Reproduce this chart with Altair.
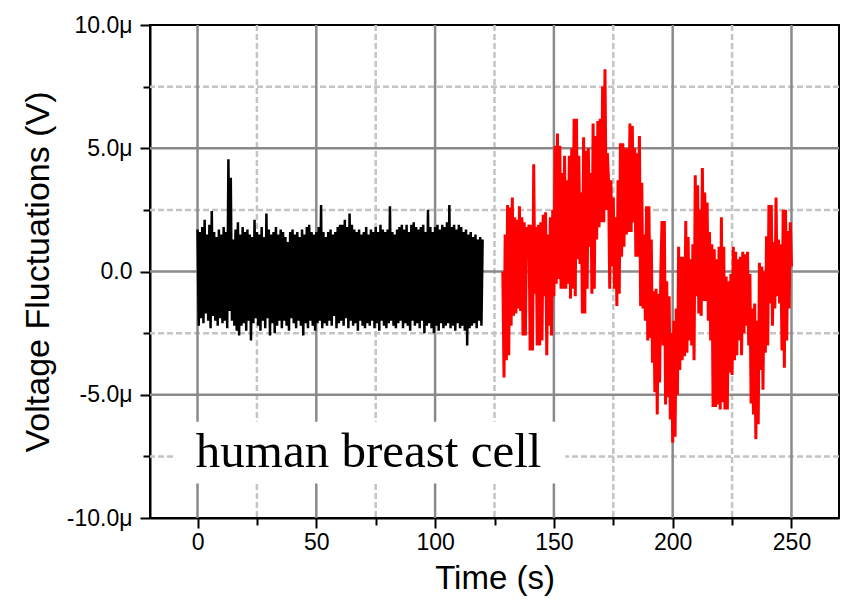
import altair as alt
import pandas as pd

# ---------------- data (values in µV) ----------------
black_t0, black_dt = 0.0, 0.5
black_v = [
    1.7, -2.2, 1.6, -1.9, 1.8, -2.1, 2.1, -1.7, 1.5, -2.0,
    1.9, -2.3, 2.45, -1.8, 1.6, -2.0, 1.4, -2.2, 1.7, -1.9,
    1.5, -2.1, 1.8, -2.0, 1.6, -2.3, 4.55, -1.6, 3.8, -2.0,
    1.3, -2.2, 1.7, -2.4, 2.0, -2.6, 1.5, -2.2, 1.8, -2.1,
    1.6, -2.4, 1.7, -2.0, 1.5, -2.8, 1.4, -2.1, 2.1, -1.9,
    1.6, -2.2, 1.5, -2.4, 1.8, -2.0, 1.4, -2.3, 2.35, -1.9,
    1.7, -2.6, 1.5, -2.1, 1.6, -2.5, 1.8, -2.2, 1.5, -2.0,
    1.7, -2.3, 1.6, -2.0, 1.4, -2.2, 1.2, -2.4, 1.6, -1.9,
    1.7, -2.1, 1.5, -2.3, 1.6, -2.0, 1.4, -2.2, 1.7, -2.6,
    1.5, -2.1, 1.8, -2.3, 1.9, -2.0, 1.6, -2.2, 1.5, -2.4,
    1.6, -2.1, 1.8, -2.0, 2.7, -2.3, 1.6, -2.1, 1.4, -2.2,
    1.6, -2.0, 1.7, -2.2, 1.5, -1.8, 1.6, -2.3, 1.8, -2.1,
    1.9, -2.0, 1.9, -2.2, 2.1, -1.9, 1.8, -2.3, 2.35, -2.0,
    1.9, -2.2, 1.7, -2.1, 1.6, -2.4, 1.7, -2.0, 1.5, -2.2,
    1.6, -2.3, 1.8, -2.1, 1.5, -2.2, 1.7, -2.0, 1.6, -2.3,
    1.8, -2.1, 1.6, -2.4, 1.9, -2.0, 1.7, -2.2, 1.6, -2.3,
    1.7, -2.1, 2.65, -2.0, 1.6, -2.2, 1.5, -2.3, 1.7, -2.1,
    1.8, -2.0, 1.9, -2.3, 1.7, -2.1, 1.9, -2.2, 1.6, -2.4,
    1.9, -2.0, 2.0, -2.2, 1.8, -2.1, 1.7, -2.3, 1.8, -2.0,
    1.9, -2.5, 1.6, -2.2, 2.5, -2.1, 1.8, -2.3, 1.6, -2.5,
    1.8, -2.2, 1.9, -2.4, 1.7, -2.1, 1.9, -2.3, 1.8, -2.2,
    2.0, -2.1, 2.7, -2.3, 1.8, -2.2, 1.9, -2.4, 1.7, -2.1,
    1.9, -2.3, 1.8, -2.2, 1.6, -2.4, 1.7, -3.0, 1.5, -2.3,
    1.6, -2.2, 1.4, -2.1, 1.5, -2.3, 1.3, -2.0, 1.4, -2.2,
    1.3,
]

red_t0, red_dt = 128.5, 0.5
red_v = [
    0.0, -4.3, 1.5, -3.6, 2.7, -3.4, 2.6, -2.2,
    3.0, -1.8, 2.2, -1.7, 2.1, -1.5, 2.65,
    -1.6, 2.2, -2.6, 2.0, -2.6, 1.8, 0.6,
    1.9, -3.2, 1.9, -3.2, 4.35, -0.9, 1.8,
    -3.0, 1.9, -3.0, 2.0, -2.8, 2.3, -1.0,
    2.4, -3.4, 1.5, -2.2, 2.2, -2.6, 2.5,
    -1.0, 5.1, -0.5, 5.6, -0.3, 5.1, -0.7,
    4.0, -0.7, 4.7, -0.7, 3.7, -0.5, 4.7,
    -1.1, 5.0, -0.7, 6.2,
    -1.0, 6.2, 0.5,
    4.7, 0.3, 3.2, -1.7, 5.45, -1.7, 4.9,
    -0.7, 5.0, 1.0, 4.0, -0.9, 6.0, -0.7,
    5.5, 1.3, 6.1, 1.8, 6.2, 2.0, 7.5,
    2.0, 8.2, 2.5, 4.8, 3.7, -0.7, 3.7,
    0.2, 3.0, -0.7, 2.2, -1.4, 3.7, -0.9,
    5.2, 0.6, 5.2, 1.0, 5.0, 1.5, 5.0,
    1.6, 6.0, 1.6, 5.9, 2.0, 5.0, 0.6,
    4.8, 0.6, 5.5, -1.4, 3.6, -1.5, 1.5,
    -2.0, 2.65, -2.8, 2.65,
    -2.7, 1.3, -3.7,
    -0.8, -4.9, -0.7, -5.8, -0.9, -4.5, 0.0,
    2.05, -3.0, 2.05, -5.4, -0.4, -5.1, -1.0,
    -6.0, -2.5, -6.95, -2.0, -6.7, -1.5, -5.0,
    1.0, -4.0, 0.6, -3.6, 0.6, -3.44, 2.05,
    -3.3, 1.4, -2.8, 0.5, -3.0, 1.1, -3.6,
    3.9, -1.0, 3.5, -1.7, 2.5, -1.8, 4.2,
    -1.2, 3.2, -1.2, 2.8, -2.0, 1.6, -2.8,
    1.1, -5.5, 0.9, -5.5, 0.5, -5.4, 1.0,
    -5.6, 2.2, -5.3, 1.0, -5.6, -0.2, -5.6,
    -0.4, -4.1, -0.1, -4.2, 1.0, -3.6, 0.8,
    -3.4, 0.5, -2.8, 0.6, -3.4, 0.8, -2.5,
    0.7, -2.2, 0.8, -3.0, -0.1, -5.35, -1.5,
    -5.8, -1.3, -6.8, -2.0, -6.2, 0.35, -4.0,
    0.2, -4.8, 0.0, -3.3, 1.43, -3.0, 2.7,
    -1.3, 2.7, -2.2, 1.2, -1.5, 3.0, -1.0,
    1.3, -1.3, 1.1, -3.2, 2.5, -3.9, 2.5,
    -2.8, 1.64, -1.5, 2.0, 0.2,
]

x_major = [0, 50, 100, 150, 200, 250]
x_minor = [25, 75, 125, 175, 225]
y_major = [-10, -5, 0, 5, 10]
y_grid_major = [-5, 0, 5]
y_minor = [-7.5, -2.5, 2.5, 7.5]

label_text = "human breast cell"

# ---------------- build tables ----------------
black_df = pd.DataFrame({"t": [black_t0 + i * black_dt for i in range(len(black_v))],
                         "v": black_v})
red_df = pd.DataFrame({"t": [red_t0 + i * red_dt for i in range(len(red_v))],
                       "v": red_v})

xs = alt.Scale(domain=[-20, 270], nice=False, zero=False)
ys = alt.Scale(domain=[-10, 10], nice=False, zero=False)

MAJOR_GRID = "#8a8a8a"
MINOR_GRID = "#c4c4c4"
FONT = "Liberation Sans"

ylabel = ("datum.value == 0 ? '0.0' : (datum.value < 0 ? '-' : '') + "
          "format(abs(datum.value), '.1f') + 'μ'")

# minor grid + minor ticks (own axes)
vminor = alt.Chart(pd.DataFrame({"x": x_minor})).mark_rule(
    color=MINOR_GRID, strokeWidth=2.5, strokeDash=[6, 3]
).encode(
    x=alt.X("x:Q", scale=xs, axis=alt.Axis(
        orient="bottom", values=x_minor, labels=False, domain=False, grid=False,
        ticks=True, tickSize=7, tickWidth=2, tickColor="black", title=None))
)
hminor = alt.Chart(pd.DataFrame({"y": y_minor})).mark_rule(
    color=MINOR_GRID, strokeWidth=2.5, strokeDash=[6, 3]
).encode(
    y=alt.Y("y:Q", scale=ys, axis=alt.Axis(
        orient="left", values=y_minor, labels=False, domain=False, grid=False,
        ticks=True, tickSize=7, tickWidth=2, tickColor="black", title=None))
)
vmajor = alt.Chart(pd.DataFrame({"x": x_major})).mark_rule(
    color=MAJOR_GRID, strokeWidth=2.5
).encode(x=alt.X("x:Q", scale=xs, axis=None))
hmajor = alt.Chart(pd.DataFrame({"y": y_grid_major})).mark_rule(
    color=MAJOR_GRID, strokeWidth=2.5
).encode(y=alt.Y("y:Q", scale=ys, axis=None))

# white label box and text
box = alt.Chart(pd.DataFrame({"x": [-10.3], "x2": [154.8], "y": [-6.1], "y2": [-8.6]})).mark_rect(
    color="white"
).encode(
    x=alt.X("x:Q", scale=xs, axis=None), x2="x2:Q",
    y=alt.Y("y:Q", scale=ys, axis=None), y2="y2:Q",
)
txt = alt.Chart(pd.DataFrame({"x": [-0.7], "y": [-7.93], "label": [label_text]})).mark_text(
    font="Liberation Serif", fontSize=49, align="left", baseline="alphabetic", color="black"
).encode(
    x=alt.X("x:Q", scale=xs, axis=None),
    y=alt.Y("y:Q", scale=ys, axis=None),
    text="label:N",
)

red_line = alt.Chart(red_df).mark_line(strokeWidth=3, color="#ff0000").encode(
    x=alt.X("t:Q", scale=xs, axis=None),
    y=alt.Y("v:Q", scale=ys, axis=None),
)

black_line = alt.Chart(black_df).mark_line(strokeWidth=2.5, color="#000000").encode(
    x=alt.X("t:Q", scale=xs, axis=alt.Axis(
        orient="bottom", values=x_major, title="Time (s)", grid=False,
        tickSize=10, tickWidth=2, tickColor="black",
        domainColor="black", domainWidth=2,
        labelFont=FONT, labelFontSize=23, labelColor="black", labelPadding=3,
        titleFont=FONT, titleFontSize=33, titleFontWeight="normal", titleColor="black",
        titlePadding=8)),
    y=alt.Y("v:Q", scale=ys, axis=alt.Axis(
        orient="left", values=y_major, title="Voltage Fluctuations (V)", grid=False,
        labelExpr=ylabel,
        tickSize=10, tickWidth=2, tickColor="black",
        domainColor="black", domainWidth=2,
        labelFont=FONT, labelFontSize=23, labelColor="black", labelPadding=8,
        titleFont=FONT, titleFontSize=34, titleFontWeight="normal", titleColor="black",
        titlePadding=11)),
)

chart = alt.layer(vminor, hminor, vmajor, hmajor, box, txt, red_line, black_line).resolve_axis(
    x="independent", y="independent"
).properties(
    width=689, height=493,
    autosize=alt.AutoSizeParams(type="none"),
    padding={"left": 150, "top": 25, "right": 7, "bottom": 89},
    background="white",
).configure_view(stroke="black", strokeWidth=2)

chart.save("out.html", embed_options={"renderer": "svg", "actions": False})
